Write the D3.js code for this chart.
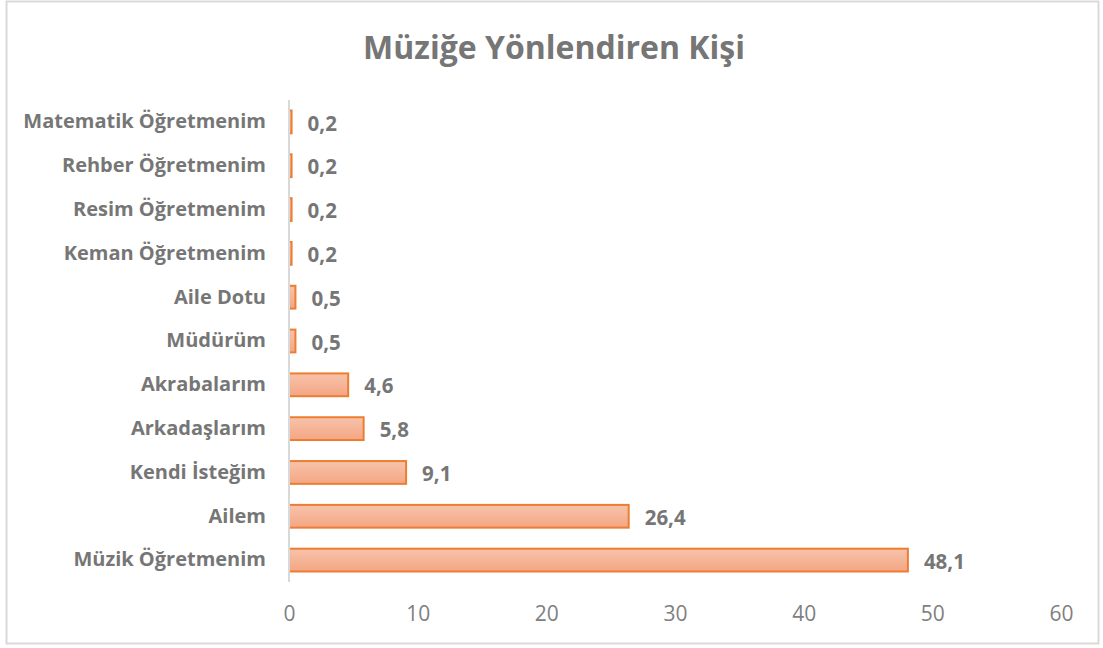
<!DOCTYPE html>
<html>
<head>
<meta charset="utf-8">
<script src="https://cdn.jsdelivr.net/npm/d3@7"></script>
<style>
  body { margin: 0; background: #fff; }
  text { font-family: "Open Sans", sans-serif; }
</style>
</head>
<body>
<div id="vis-container"></div>
<script>
// categories top to bottom, as in the picture
const categories = [
  "Matematik Öğretmenim", "Rehber Öğretmenim", "Resim Öğretmenim",
  "Keman Öğretmenim", "Aile Dotu", "Müdürüm", "Akrabalarım",
  "Arkadaşlarım", "Kendi İsteğim", "Ailem", "Müzik Öğretmenim"
];
const values = [0.2, 0.2, 0.2, 0.2, 0.5, 0.5, 4.6, 5.8, 9.1, 26.4, 48.1];
const xTickValues = [0, 10, 20, 30, 40, 50, 60];
const title = "Müziğe Yönlendiren Kişi";

const width = 1103;
const height = 648;

const plot = { left: 289, right: 1061, top: 100, bottom: 582 };

const xScale = d3.scaleLinear().domain([0, 60]).range([plot.left, plot.right]);
const yScale = d3.scaleBand().domain(categories)
      .range([plot.top, plot.bottom]).paddingInner(0.48).paddingOuter(0.24);

const svg = d3.select('#vis-container').append('svg')
      .attr('width', width)
      .attr('height', height);

// outer frame
svg.append('rect')
  .attr('x', 6.5).attr('y', 1.5)
  .attr('width', 1092).attr('height', 642)
  .attr('fill', '#fff')
  .attr('stroke', '#d9d9d9')
  .attr('stroke-width', 2);

const grad = svg.append('defs').append('linearGradient')
      .attr('id', 'barFill').attr('x1', 0).attr('y1', 0).attr('x2', 0).attr('y2', 1);
grad.append('stop').attr('offset', '0%').attr('stop-color', '#f7c3ab');
grad.append('stop').attr('offset', '100%').attr('stop-color', '#f4a683');

svg.append('text')
  .attr('x', 554).attr('y', 59)
  .attr('text-anchor', 'middle')
  .attr('font-size', 32)
  .attr('font-weight', 'bold')
  .attr('fill', '#767676')
  .text(title);

// bars
svg.selectAll('.bar')
  .data(values)
  .enter().append('rect')
  .attr('class', 'bar')
  .attr('x', xScale(0))
  .attr('y', (d, i) => yScale(categories[i]))
  .attr('width', d => xScale(d) - xScale(0))
  .attr('height', yScale.bandwidth())
  .attr('fill', 'url(#barFill)')
  .attr('stroke', '#ed7d31')
  .attr('stroke-width', 2);

// vertical axis line
svg.append('line')
  .attr('x1', xScale(0)).attr('x2', xScale(0))
  .attr('y1', plot.top).attr('y2', plot.bottom)
  .attr('stroke', '#d9d9d9')
  .attr('stroke-width', 2);

// category labels
const yAxis = d3.axisLeft(yScale).tickSize(0).tickPadding(23);
const yAxisG = svg.append('g')
  .attr('transform', `translate(${xScale(0)} 0)`)
  .call(yAxis);
yAxisG.select('.domain').remove();
yAxisG.selectAll('text')
  .attr('font-family', '"Open Sans", sans-serif')
  .attr('font-size', 20)
  .attr('font-weight', 'bold')
  .attr('fill', '#767676');

// value labels
svg.selectAll('.val')
  .data(values)
  .enter().append('text')
  .attr('class', 'val')
  .attr('x', d => xScale(d) + 16)
  .attr('y', (d, i) => yScale(categories[i]) + yScale.bandwidth() / 2)
  .attr('dy', '0.42em')
  .attr('font-size', 20.5)
  .attr('font-weight', 'bold')
  .attr('fill', '#767676')
  .text(d => String(d).replace('.', ','));

// x axis tick labels
const xAxis = d3.axisBottom(xScale).tickValues(xTickValues).tickSize(0).tickPadding(0);
const xAxisG = svg.append('g')
  .attr('transform', `translate(0 ${plot.bottom + 24})`)
  .call(xAxis);
xAxisG.select('.domain').remove();
xAxisG.selectAll('text')
  .attr('font-family', '"Open Sans", sans-serif')
  .attr('font-size', 21)
  .attr('fill', '#808080');
</script>
</body>
</html>
